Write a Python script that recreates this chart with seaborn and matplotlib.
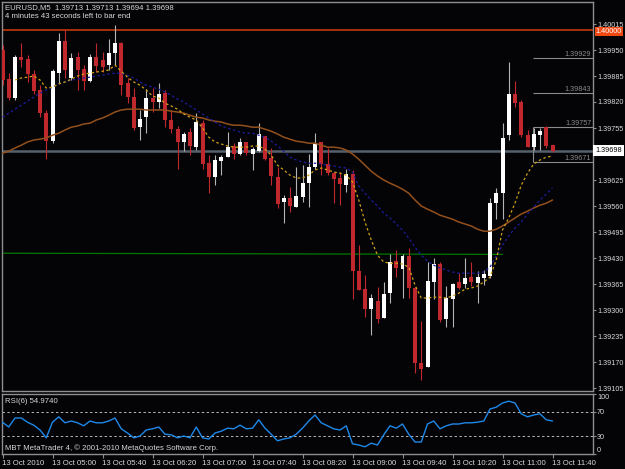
import matplotlib
matplotlib.use("Agg")
import matplotlib.pyplot as plt
import numpy as np
import pandas as pd
import seaborn as sns

# ---------------------------------------------------------------- data
symbol_line = "EURUSD,M5  1.39713 1.39713 1.39694 1.39698"
timer_line = "4 minutes 43 seconds left to bar end"

opens = [1.39950, 1.39877, 1.39830, 1.39932, 1.39927, 1.39890, 1.39850, 1.39792, 1.39722, 1.39892,
         1.39972, 1.39880, 1.39932, 1.39902, 1.39872, 1.39932, 1.39925, 1.39912, 1.39942, 1.39967,
         1.39867, 1.39832, 1.39757, 1.39782, 1.39830, 1.39820, 1.39842, 1.39775, 1.39752, 1.39720,
         1.39745, 1.39707, 1.39767, 1.39667, 1.39632, 1.39672, 1.39682, 1.39710, 1.39690, 1.39720,
         1.39690, 1.39697, 1.39735, 1.39680, 1.39632, 1.39570, 1.39580, 1.39557, 1.39582, 1.39617,
         1.39657, 1.39720, 1.39665, 1.39642, 1.39630, 1.39612, 1.39640, 1.39397, 1.39352, 1.39302,
         1.39322, 1.39280, 1.39342, 1.39422, 1.39402, 1.39435, 1.39355, 1.39167, 1.39157, 1.39370,
         1.39415, 1.39277, 1.39327, 1.39370, 1.39365, 1.39382, 1.39367, 1.39380, 1.39385, 1.39567,
         1.39592, 1.39737, 1.39840, 1.39820, 1.39737, 1.39707, 1.39737, 1.39757, 1.39713]
highs = [1.39962, 1.39892, 1.39937, 1.39967, 1.39937, 1.39900, 1.39862, 1.39800, 1.39902, 1.39992,
         1.40002, 1.39942, 1.39945, 1.39912, 1.39940, 1.39967, 1.39945, 1.39977, 1.40012, 1.39970,
         1.39880, 1.39855, 1.39800, 1.39852, 1.39855, 1.39867, 1.39850, 1.39800, 1.39760, 1.39745,
         1.39755, 1.39792, 1.39775, 1.39687, 1.39687, 1.39687, 1.39745, 1.39717, 1.39730, 1.39720,
         1.39707, 1.39767, 1.39735, 1.39705, 1.39657, 1.39587, 1.39607, 1.39657, 1.39662, 1.39690,
         1.39742, 1.39720, 1.39705, 1.39645, 1.39645, 1.39652, 1.39650, 1.39462, 1.39387, 1.39340,
         1.39357, 1.39370, 1.39440, 1.39450, 1.39440, 1.39455, 1.39357, 1.39272, 1.39420, 1.39430,
         1.39420, 1.39360, 1.39367, 1.39392, 1.39430, 1.39420, 1.39397, 1.39400, 1.39580, 1.39605,
         1.39767, 1.39920, 1.39872, 1.39825, 1.39750, 1.39755, 1.39755, 1.39760, 1.39713]
lows = [1.39862, 1.39825, 1.39825, 1.39907, 1.39870, 1.39840, 1.39782, 1.39677, 1.39717, 1.39867,
        1.39880, 1.39875, 1.39850, 1.39850, 1.39870, 1.39895, 1.39895, 1.39900, 1.39912, 1.39837,
        1.39817, 1.39750, 1.39725, 1.39742, 1.39795, 1.39805, 1.39757, 1.39742, 1.39652, 1.39697,
        1.39687, 1.39700, 1.39652, 1.39592, 1.39612, 1.39637, 1.39682, 1.39677, 1.39687, 1.39687,
        1.39650, 1.39695, 1.39675, 1.39612, 1.39555, 1.39517, 1.39545, 1.39557, 1.39570, 1.39557,
        1.39652, 1.39637, 1.39637, 1.39567, 1.39562, 1.39595, 1.39327, 1.39350, 1.39282, 1.39237,
        1.39267, 1.39280, 1.39317, 1.39382, 1.39330, 1.39330, 1.39142, 1.39125, 1.39157, 1.39327,
        1.39270, 1.39257, 1.39257, 1.39352, 1.39355, 1.39360, 1.39317, 1.39362, 1.39380, 1.39527,
        1.39527, 1.39725, 1.39807, 1.39732, 1.39707, 1.39700, 1.39700, 1.39705, 1.39694]
closes = [1.39875, 1.39830, 1.39932, 1.39925, 1.39890, 1.39847, 1.39792, 1.39722, 1.39897, 1.39972,
          1.39900, 1.39930, 1.39900, 1.39872, 1.39932, 1.39910, 1.39907, 1.39942, 1.39967, 1.39862,
          1.39832, 1.39755, 1.39777, 1.39830, 1.39820, 1.39840, 1.39775, 1.39752, 1.39720, 1.39740,
          1.39710, 1.39770, 1.39665, 1.39632, 1.39675, 1.39682, 1.39707, 1.39690, 1.39720, 1.39692,
          1.39702, 1.39740, 1.39677, 1.39635, 1.39565, 1.39580, 1.39560, 1.39585, 1.39617, 1.39657,
          1.39717, 1.39665, 1.39642, 1.39627, 1.39615, 1.39640, 1.39397, 1.39350, 1.39302, 1.39330,
          1.39277, 1.39340, 1.39420, 1.39405, 1.39435, 1.39355, 1.39167, 1.39152, 1.39372, 1.39415,
          1.39275, 1.39330, 1.39365, 1.39355, 1.39380, 1.39370, 1.39382, 1.39390, 1.39567, 1.39592,
          1.39730, 1.39840, 1.39817, 1.39737, 1.39707, 1.39740, 1.39747, 1.39710, 1.39698]

# fast MA starts on the third bar
ma_fast_start = 2
ma_fast = [1.39875, 1.39880, 1.39882, 1.39885, 1.39875, 1.39855, 1.39857, 1.39865, 1.39870, 1.39877,
           1.39885, 1.39890, 1.39892, 1.39895, 1.39897, 1.39900, 1.39912, 1.39897, 1.39882, 1.39870,
           1.39862, 1.39850, 1.39835, 1.39830, 1.39817, 1.39810, 1.39802, 1.39790, 1.39782, 1.39775,
           1.39755, 1.39732, 1.39720, 1.39715, 1.39710, 1.39707, 1.39707, 1.39707, 1.39710, 1.39710,
           1.39702, 1.39687, 1.39662, 1.39650, 1.39637, 1.39630, 1.39630, 1.39637, 1.39650, 1.39655,
           1.39650, 1.39645, 1.39642, 1.39637, 1.39620, 1.39575, 1.39520, 1.39475, 1.39437, 1.39420,
           1.39417, 1.39417, 1.39415, 1.39407, 1.39362, 1.39330, 1.39330, 1.39332, 1.39332, 1.39330,
           1.39335, 1.39342, 1.39352, 1.39355, 1.39360, 1.39370, 1.39382, 1.39425, 1.39500, 1.39530,
           1.39567, 1.39612, 1.39642, 1.39665, 1.39675, 1.39682, 1.39685]
ma_mid = [1.39782, 1.39792, 1.39802, 1.39812, 1.39822, 1.39832, 1.39842, 1.39850, 1.39857, 1.39865,
          1.39870, 1.39875, 1.39877, 1.39880, 1.39882, 1.39885, 1.39887, 1.39890, 1.39892, 1.39892,
          1.39887, 1.39880, 1.39870, 1.39862, 1.39857, 1.39852, 1.39845, 1.39837, 1.39827, 1.39820,
          1.39810, 1.39800, 1.39790, 1.39780, 1.39770, 1.39760, 1.39755, 1.39750, 1.39745, 1.39742,
          1.39742, 1.39737, 1.39732, 1.39722, 1.39710, 1.39697, 1.39682, 1.39675, 1.39670, 1.39667,
          1.39667, 1.39665, 1.39662, 1.39660, 1.39657, 1.39655, 1.39645, 1.39610, 1.39592, 1.39575,
          1.39560, 1.39542, 1.39530, 1.39515, 1.39500, 1.39480, 1.39457, 1.39437, 1.39422, 1.39412,
          1.39405, 1.39400, 1.39395, 1.39392, 1.39392, 1.39392, 1.39392, 1.39395, 1.39407, 1.39435,
          1.39462, 1.39485, 1.39505, 1.39520, 1.39540, 1.39557, 1.39575, 1.39590, 1.39605]
ma_slow = [1.39692, 1.39697, 1.39705, 1.39712, 1.39720, 1.39725, 1.39727, 1.39730, 1.39737, 1.39742,
           1.39750, 1.39757, 1.39760, 1.39765, 1.39767, 1.39775, 1.39780, 1.39787, 1.39795, 1.39800,
           1.39802, 1.39802, 1.39802, 1.39800, 1.39800, 1.39800, 1.39800, 1.39797, 1.39795, 1.39792,
           1.39787, 1.39782, 1.39780, 1.39775, 1.39772, 1.39770, 1.39765, 1.39762, 1.39762, 1.39760,
           1.39757, 1.39757, 1.39752, 1.39747, 1.39740, 1.39732, 1.39727, 1.39722, 1.39720, 1.39717,
           1.39717, 1.39712, 1.39707, 1.39707, 1.39705, 1.39700, 1.39690, 1.39677, 1.39662, 1.39647,
           1.39635, 1.39625, 1.39617, 1.39610, 1.39602, 1.39592, 1.39575, 1.39560, 1.39552, 1.39545,
           1.39537, 1.39532, 1.39527, 1.39520, 1.39515, 1.39510, 1.39502, 1.39497, 1.39497, 1.39502,
           1.39510, 1.39520, 1.39530, 1.39540, 1.39547, 1.39555, 1.39562, 1.39567, 1.39575]

rsi = [53, 45, 60, 60, 53, 48, 40, 27, 53, 62,
       52, 55, 52, 47, 55, 52, 52, 55, 60, 42,
       35, 27, 30, 40, 42, 45, 33, 32, 27, 30,
       27, 45, 27, 25, 35, 38, 43, 42, 48, 42,
       43, 57, 43, 33, 22, 25, 27, 33, 43, 55,
       65, 52, 47, 42, 40, 47, 17, 15, 12, 18,
       15, 32, 47, 43, 50, 33, 20, 20, 50, 55,
       42, 47, 50, 50, 52, 52, 53, 55, 75, 78,
       85, 88, 85, 67, 62, 65, 67, 57, 54.974]
rsi_label = "RSI(6) 54.9740"
rsi_levels = [70, 30]
rsi_ticks = [100, 70, 30, 0]

price_ticks = [1.40015, 1.39950, 1.39885, 1.39820, 1.39755, 1.39690, 1.39625, 1.39560,
               1.39495, 1.39430, 1.39365, 1.39300, 1.39235, 1.39170, 1.39105]
hidden_tick = 1.39690                # its label sits under the bid box
round_level = 1.40000
bid_price = 1.39698
green_line = [1.39442, 1.39439]      # trend line, first bar -> bar 80
green_end_bar = 80
range_levels = [1.39929, 1.39843, 1.39757, 1.39671]
range_start_bar = 84.9

time_labels = ["13 Oct 2010", "13 Oct 05:00", "13 Oct 05:40", "13 Oct 06:20",
               "13 Oct 07:00", "13 Oct 07:40", "13 Oct 08:20", "13 Oct 09:00",
               "13 Oct 09:40", "13 Oct 10:20", "13 Oct 11:00", "13 Oct 11:40"]
time_label_step = 8
footer = "MBT MetaTrader 4, \u00a9 2001-2010 MetaQuotes Software Corp."

# ---------------------------------------------------------------- style
W, H = 625, 469
BG = "#040407"
FG = "#d8d8d8"
EDGE = "#8e8e8e"
FS = 5.6
FS_AX = 5.2   # price scale labels, must fit in the 32 px right margin

sns.set_theme(style="dark", rc={"axes.facecolor": BG, "figure.facecolor": BG,
                                "axes.grid": False, "axes.edgecolor": EDGE})
plt.rcParams["font.family"] = ["Liberation Sans", "DejaVu Sans"]

df = pd.DataFrame({"open": opens, "high": highs, "low": lows, "close": closes})
df["bar"] = np.arange(len(df))
df["up"] = df["close"] >= df["open"]


def px_rect(x0, y0, x1, y1):
    return [x0 / W, 1 - y1 / H, (x1 - x0) / W, (y1 - y0) / H]


fig = plt.figure(figsize=(W / 100, H / 100), dpi=100)
ax = fig.add_axes(px_rect(2, 2, 593, 391))
ax_rsi = fig.add_axes(px_rect(2, 394, 593, 454))

xlim = (-0.08, -0.08 + 591 / 6.25)

# ---------------------------------------------------------------- price panel
ax.axhline(round_level, color="#a8300c", lw=1.4, zorder=1)
ax.axhline(bid_price, color="#56606b", lw=1.8, zorder=1)
ax.plot([xlim[0], green_end_bar], green_line, color="#007800", lw=0.9, zorder=1)

ax.hlines(range_levels, range_start_bar, xlim[1], color="#8a8a8a", lw=0.8, zorder=1)
ax.vlines(range_start_bar, range_levels[3], range_levels[2], color="#8a8a8a", lw=0.8, zorder=1)
for lv in range_levels:
    ax.text(0.997, lv, f"{lv:.5f}", transform=ax.get_yaxis_transform(), ha="right",
            va="bottom", fontsize=FS_AX, color="#8a8a8a", zorder=2)

wick_col = np.where(df["up"], "#b4b4b4", "#c0282d")
body_col = np.where(df["up"], "#ffffff", "#c0282d")
body_lo = df[["open", "close"]].min(axis=1)
body_h = (df["close"] - df["open"]).abs().clip(lower=0.00002)
ax.vlines(df["bar"], df["low"], df["high"], colors=wick_col, lw=0.8, zorder=3)
ax.bar(df["bar"], body_h, bottom=body_lo, width=0.64, color=body_col, linewidth=0, zorder=4)

sns.lineplot(x=np.arange(len(ma_slow)), y=ma_slow, ax=ax, color="#93501c", lw=1.1, zorder=5)
sns.lineplot(x=np.arange(len(ma_mid)), y=ma_mid, ax=ax, color="#1c1c9c", lw=0.9,
             linestyle=(0, (2, 2)), zorder=5)
sns.lineplot(x=np.arange(ma_fast_start, ma_fast_start + len(ma_fast)), y=ma_fast, ax=ax,
             color="#d0a018", lw=0.9, linestyle=(0, (2, 2)), zorder=5)

ax.set_xlim(*xlim)
ax.set_ylim(1.390975, 1.40070)
ax.yaxis.tick_right()
ax.set_yticks(price_ticks)
ax.set_yticklabels(["" if t == hidden_tick else f"{t:.5f}" for t in price_ticks])
ax.tick_params(axis="y", which="both", right=True, left=False, direction="out", length=2.2,
               width=0.8, color=EDGE, labelcolor=FG, labelsize=FS_AX, pad=0.8)
ax.set_xticks([])
ax.set_xlabel("")
ax.set_ylabel("")

ax.text(1.0045, round_level - 0.00003, f"{round_level:.5f}", transform=ax.get_yaxis_transform(),
        ha="left", va="center", fontsize=FS_AX, color="white", zorder=10, clip_on=False,
        bbox=dict(boxstyle="square,pad=0.15", fc="#f04812", ec="none"))
ax.text(1.0045, bid_price, f"{bid_price:.5f}", transform=ax.get_yaxis_transform(),
        ha="left", va="center", fontsize=FS_AX, color="black", zorder=10, clip_on=False,
        bbox=dict(boxstyle="square,pad=0.3", fc="white", ec="none"))

# ---------------------------------------------------------------- RSI panel
for lv in rsi_levels:
    ax_rsi.axhline(lv, color="#b8b8b8", lw=0.7, ls=(0, (2.5, 2.5)), zorder=1)
sns.lineplot(x=np.arange(len(rsi)), y=rsi, ax=ax_rsi, color="#1e88e8", lw=1.0, zorder=3)
ax_rsi.set_xlim(*xlim)
ax_rsi.set_ylim(0, 100)
ax_rsi.yaxis.tick_right()
ax_rsi.set_yticks(rsi_ticks)
ax_rsi.set_yticklabels([str(t) for t in rsi_ticks])
ax_rsi.tick_params(axis="y", right=True, left=False, direction="out", length=2.2, width=0.8,
                   color=EDGE, labelcolor=FG, labelsize=FS_AX, pad=0.8)
ticks_y = ax_rsi.yaxis.get_major_ticks()
ticks_y[0].label2.set_va("top")
ticks_y[-1].label2.set_va("bottom")

ax_rsi.set_xticks(np.arange(0, len(time_labels) * time_label_step, time_label_step))
ax_rsi.set_xticklabels(time_labels)
ax_rsi.tick_params(axis="x", bottom=True, direction="out", length=3, width=0.8, color=EDGE,
                   labelcolor=FG, labelsize=FS, pad=1)
plt.setp(ax_rsi.get_xticklabels(), ha="left")
ax_rsi.set_xlabel("")
ax_rsi.set_ylabel("")
ax_rsi.text(0.005, 0.88, rsi_label, transform=ax_rsi.transAxes, fontsize=FS, color=FG,
            ha="left", va="center")
ax_rsi.text(0.005, 0.1, footer, transform=ax_rsi.transAxes, fontsize=FS, color=FG,
            ha="left", va="center")

for a in (ax, ax_rsi):
    a.grid(False)
    for sp in a.spines.values():
        sp.set_color(EDGE)
        sp.set_linewidth(1.0)
        sp.set_visible(True)

fig.text(5 / W, 1 - 8 / H, symbol_line, fontsize=FS, color=FG, ha="left", va="center")
fig.text(5 / W, 1 - 16 / H, timer_line, fontsize=FS, color=FG, ha="left", va="center")

fig.savefig("out.png", dpi=100, facecolor=BG)
plt.close(fig)
